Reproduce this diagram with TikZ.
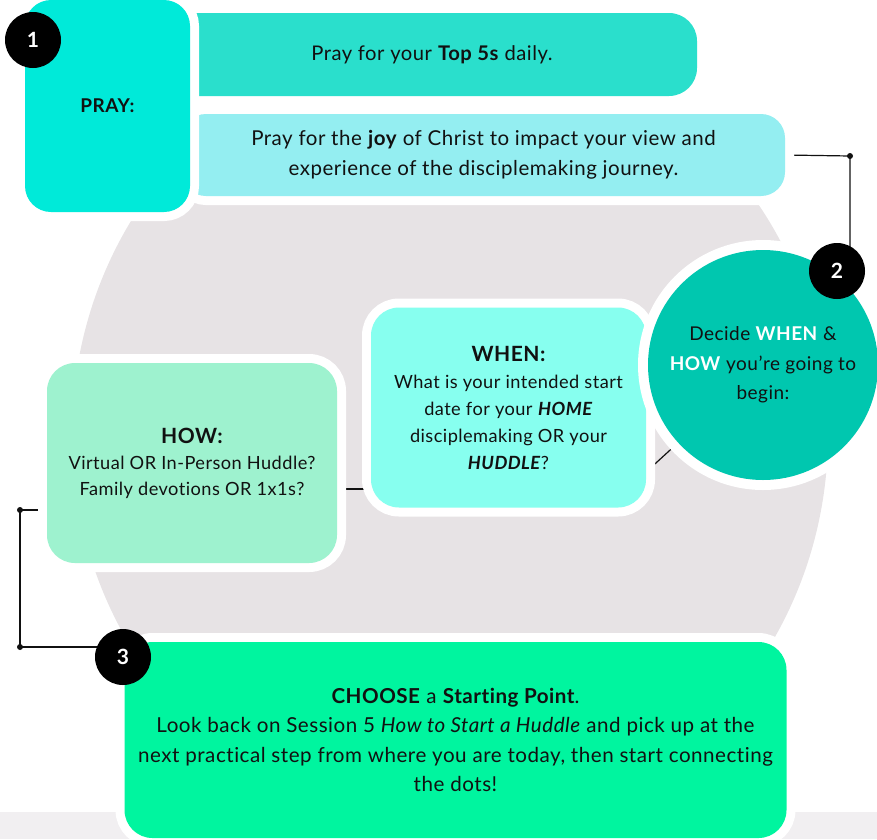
\documentclass[tikz,border=0pt]{standalone}
\usepackage{fontspec}
\setmainfont[LetterSpace=2.5,Ligatures={NoCommon}]{Lato}
\usetikzlibrary{calc}
\definecolor{prayc}{HTML}{00EAD9}
\definecolor{topc}{HTML}{2ADFCC}
\definecolor{joyc}{HTML}{94EEF1}
\definecolor{circc}{HTML}{00C7AF}
\definecolor{whenc}{HTML}{87FFEF}
\definecolor{howc}{HTML}{9EF2CF}
\definecolor{choosec}{HTML}{00F59F}
\definecolor{greyc}{HTML}{E7E3E5}
\definecolor{bandc}{HTML}{F1EFF1}
\definecolor{inkc}{HTML}{111111}
\pgfdeclarelayer{bg}
\pgfdeclarelayer{conn}
\pgfsetlayers{bg,conn,main}
\begin{document}
\begin{tikzpicture}[x=1pt,y=-1pt,
  box/.style={rounded corners=28pt, inner sep=0pt, align=center, text=inkc,
    preaction={draw=white, line width=18pt}},
  badge/.style={circle, fill=black, minimum size=56pt, inner sep=0pt, text=white,
    font=\fontsize{21}{21}\selectfont\bfseries},
  dot/.style={circle, fill=inkc, minimum size=6pt, inner sep=0pt},
  conn/.style={draw=inkc, line width=1.2pt}]
\useasboundingbox (0,0) rectangle (877,839);
\clip (0,0) rectangle (877,839);
\begin{pgfonlayer}{bg}
  \fill[greyc] (450,434) ellipse [x radius=378pt, y radius=397pt];
  \fill[bandc] (0,812) rectangle (877,839);
\end{pgfonlayer}
% top boxes
\node[box, fill=topc, minimum width=530pt, minimum height=83pt,
  font=\fontsize{20.2}{29}\selectfont] (top5) at (432,54.5) {Pray for your \textbf{Top 5s} daily.};
\node[box, rounded corners=24pt, fill=joyc, minimum width=603pt, minimum height=82pt,
  font=\fontsize{20.5}{30}\selectfont] (joy) at (483.5,155)
  {Pray for the \textbf{joy} of Christ to impact your view and\\experience of the disciplemaking journey.};
\node[box, rounded corners=26pt, fill=prayc, minimum width=165pt, minimum height=212pt,
  font=\fontsize{19}{20}\selectfont\bfseries] (pray) at (107.5,106) {PRAY:};
\node[badge] (b1) at (33,40) {1};
% middle
\node[box, fill=howc, minimum width=290pt, minimum height=200pt,
  font=\fontsize{18.2}{26}\selectfont] (how) at (192,463)
  {{\fontsize{21}{26}\selectfont\bfseries HOW:}\\Virtual OR In-Person Huddle?\\Family devotions OR 1x1s?};
\node[box, fill=whenc, minimum width=275pt, minimum height=200pt,
  font=\fontsize{18.2}{27}\selectfont] (when) at (508.5,407.5)
  {{\fontsize{21}{27}\selectfont\bfseries WHEN:}\\What is your intended start\\date for your \textbf{\textit{HOME}}\\disciplemaking OR your\\\textbf{\textit{HUDDLE}}?};
\node[circle, fill=circc, minimum size=230pt, inner sep=0pt, align=center, text=inkc,
  preaction={draw=white, line width=20pt},
  font=\fontsize{19}{29.5}\selectfont] (c2) at (763,365)
  {Decide \textcolor{white}{\textbf{WHEN}} \&\\\textcolor{white}{\textbf{HOW}} you’re going to\\begin:};
\node[badge] (b2) at (837,271) {2};
% bottom
\node[box, fill=choosec, minimum width=662pt, minimum height=196pt,
  font=\fontsize{20.6}{29.5}\selectfont] (choose) at (455.5,740)
  {\textbf{CHOOSE} a \textbf{Starting Point}.\\Look back on Session 5 \textit{How to Start a Huddle} and pick up at the\\next practical step from where you are today, then start connecting\\the dots!};
\node[badge] (b3) at (123,657) {3};
% connectors
\coordinate (k2) at (850,156);
\coordinate (k3a) at (20,510);
\coordinate (k3b) at (20,647);
\coordinate (wc) at (645,473);
\begin{pgfonlayer}{conn}
  \draw[conn] (joy.east) -- (k2) -- (k2 |- b2.center);
  \draw[conn] (k3a -| how.west) -- (k3a) -- (k3b) -- (k3b -| b3.center);
  \draw[conn] (how.east |- 0,489) -- (when.west |- 0,489);
  \draw[conn] (wc) -- (c2.center);
\end{pgfonlayer}
\node[dot] (d1) at (k2) {};
\node[dot] (d2) at (k3a) {};
\node[dot] (d3) at (k3b) {};
\end{tikzpicture}
\end{document}
